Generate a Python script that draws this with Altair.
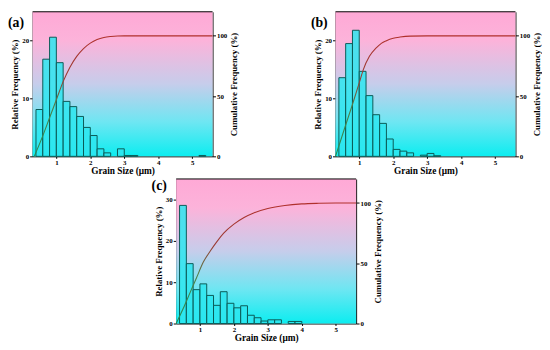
import altair as alt
import pandas as pd

# ---------------- data ----------------
# histogram bins (left edge, bin width 0.2 um) and relative frequency (%)
a_bin_lo = [0.4, 0.6, 0.8, 1.0, 1.2, 1.4, 1.6, 1.8, 2.0, 2.2, 2.4, 2.8, 3.0, 3.2, 5.2]
a_freq = [8.1, 16.8, 20.6, 16.2, 9.5, 8.6, 6.9, 5.0, 3.6, 1.3, 0.6, 1.3, 0.15, 0.15, 0.15]
a_curve_x = [0.35, 0.6, 0.8, 1.0, 1.2, 1.4, 1.6, 1.8, 2.0, 2.2, 2.4, 2.6, 2.8, 3.0, 3.5, 4.0, 5.6]
a_curve_y = [0, 17, 32, 47, 62, 74, 83, 89.5, 94, 97, 98.7, 99.5, 99.9, 100, 100, 100, 100]

b_bin_lo = [0.4, 0.6, 0.8, 1.0, 1.2, 1.4, 1.6, 1.8, 2.0, 2.2, 2.4, 2.8, 3.0, 3.2]
b_freq = [13.6, 19.5, 21.8, 14.7, 10.5, 7.2, 5.7, 3.0, 1.2, 0.9, 0.6, 0.2, 0.5, 0.1]
b_curve_x = [0.3, 0.6, 0.8, 1.0, 1.12, 1.3, 1.5, 1.65, 1.8, 2.0, 2.2, 2.5, 3.0, 4.0, 5.6]
b_curve_y = [0, 26, 43, 61, 72, 83, 90, 93.8, 96, 98, 99, 99.8, 100, 100, 100]

c_bin_lo = [0.4, 0.6, 0.8, 1.0, 1.2, 1.4, 1.6, 1.8, 2.0, 2.2, 2.4, 2.6, 2.8, 3.0, 3.2, 3.6, 3.8]
c_freq = [28.6, 14.5, 8.2, 9.6, 6.8, 4.4, 7.7, 4.9, 3.8, 4.3, 2.0, 1.4, 0.6, 0.9, 0.9, 0.5, 0.5]
c_curve_x = [0.3, 0.5, 0.7, 0.9, 1.1, 1.3, 1.5, 1.7, 2.0, 2.3, 2.6, 3.0, 3.5, 4.0, 4.5, 5.0, 5.6]
c_curve_y = [0, 12, 25, 38, 51, 60, 68, 75, 82.5, 88, 92, 95.5, 98, 99.3, 99.8, 100, 100]

x_ticks = [1, 2, 3, 4, 5]
right_ticks = [0, 50, 100]

# ---------------- styling ----------------
W, H = 183, 147
X_DOMAIN = [0.3, 5.6]
SERIF = "Liberation Serif"

BG_GRAD = alt.LinearGradient(
    gradient="linear",
    stops=[
        alt.GradientStop(color="#FFA9D6", offset=0),
        alt.GradientStop(color="#FCB3DA", offset=0.2),
        alt.GradientStop(color="#C6CDEB", offset=0.5),
        alt.GradientStop(color="#6FE6F2", offset=0.76),
        alt.GradientStop(color="#0CEDF0", offset=1),
    ],
    x1=0, x2=0, y1=0, y2=1,
)
LINE_GRAD = alt.LinearGradient(
    gradient="linear",
    stops=[
        alt.GradientStop(color="#B0302C", offset=0),
        alt.GradientStop(color="#9A3C34", offset=0.35),
        alt.GradientStop(color="#4E8048", offset=0.6),
        alt.GradientStop(color="#2A8A50", offset=1),
    ],
    x1=0, x2=0, y1=0, y2=1,
)


def x_axis():
    return alt.Axis(values=x_ticks, title="Grain Size (μm)", titlePadding=0,
                    tickSize=2, labelPadding=0, titleFontSize=9.5)


def panel(tag, lo, freq, cx, cy, ymax, yticks, label_y):
    bars_df = pd.DataFrame({"lo": lo, "freq": freq})
    curve_df = pd.DataFrame({"size": cx, "cum": cy})
    one = pd.DataFrame({"k": [0]})
    xs = alt.Scale(domain=X_DOMAIN, nice=False, zero=False)

    bg = alt.Chart(one).mark_rect(fill=BG_GRAD).encode(
        x=alt.value(0), x2=alt.value(W), y=alt.value(0), y2=alt.value(H)
    )
    bars = (
        alt.Chart(bars_df)
        .transform_calculate(hi="datum.lo + 0.2", base="0")
        .mark_rect(fill="#2EE6F0", fillOpacity=0.85, stroke="#0B5A56", strokeWidth=1)
        .encode(
            x=alt.X("lo:Q", scale=xs, axis=x_axis()),
            x2="hi:Q",
            y=alt.Y("freq:Q", scale=alt.Scale(domain=[0, ymax], nice=False),
                    axis=alt.Axis(values=yticks, orient="left",
                                  title="Relative Frequency (%)", titlePadding=2)),
            y2="base:Q",
        )
    )
    line = alt.Chart(curve_df).mark_line(
        stroke=LINE_GRAD, strokeWidth=1.1, interpolate="monotone"
    ).encode(
        x=alt.X("size:Q", scale=xs, axis=x_axis()),
        y=alt.Y("cum:Q", scale=alt.Scale(domain=[0, 120], nice=False),
                axis=alt.Axis(values=right_ticks, orient="right",
                              title="Cumulative Frequency (%)", titleAngle=270,
                              titleBaseline="top", titlePadding=3)),
    )
    top = alt.Chart(one).mark_rule(color="black", strokeWidth=1).encode(
        x=alt.value(0), x2=alt.value(W), y=alt.value(0)
    )
    label = alt.Chart(one).mark_text(
        text=tag, font=SERIF, fontSize=14, fontWeight="bold", align="left",
        baseline="middle", color="black",
    ).encode(x=alt.value(-25), y=alt.value(label_y))
    return (
        alt.layer(bg, bars, line, top, label)
        .resolve_scale(y="independent")
        .properties(width=W, height=H)
    )


pa = panel("(a)", a_bin_lo, a_freq, a_curve_x, a_curve_y, 25, [0, 10, 20], 11)
pb = panel("(b)", b_bin_lo, b_freq, b_curve_x, b_curve_y, 25, [0, 10, 20], 11)
pc = panel("(c)", c_bin_lo, c_freq, c_curve_x, c_curve_y, 35, [0, 10, 20, 30], 7)

spacer = alt.Chart(pd.DataFrame({"k": [0]})).mark_rect(opacity=0).encode(
    x=alt.value(0), x2=alt.value(1), y=alt.value(0), y2=alt.value(1)
).properties(width=1, height=1)

top_row = alt.hconcat(pa, pb, spacing=125, bounds="flush")
bottom_row = alt.hconcat(spacer, pc, spacing=145, bounds="flush")

chart = (
    alt.vconcat(top_row, bottom_row, spacing=3)
    .properties(padding={"left": 0, "top": 0, "right": 0, "bottom": 0}, background="white")
    .configure_view(stroke=None)
    .configure_axis(
        domainColor="black", tickColor="black", labelColor="black", titleColor="black",
        labelFont=SERIF, labelFontWeight="bold", labelFontSize=7,
        titleFont=SERIF, titleFontWeight="bold", titleFontSize=9,
        tickSize=3, labelPadding=1, grid=False, zindex=1, domainWidth=1,
    )
)

chart.save("out.html", embed_options={"renderer": "svg", "actions": False})
